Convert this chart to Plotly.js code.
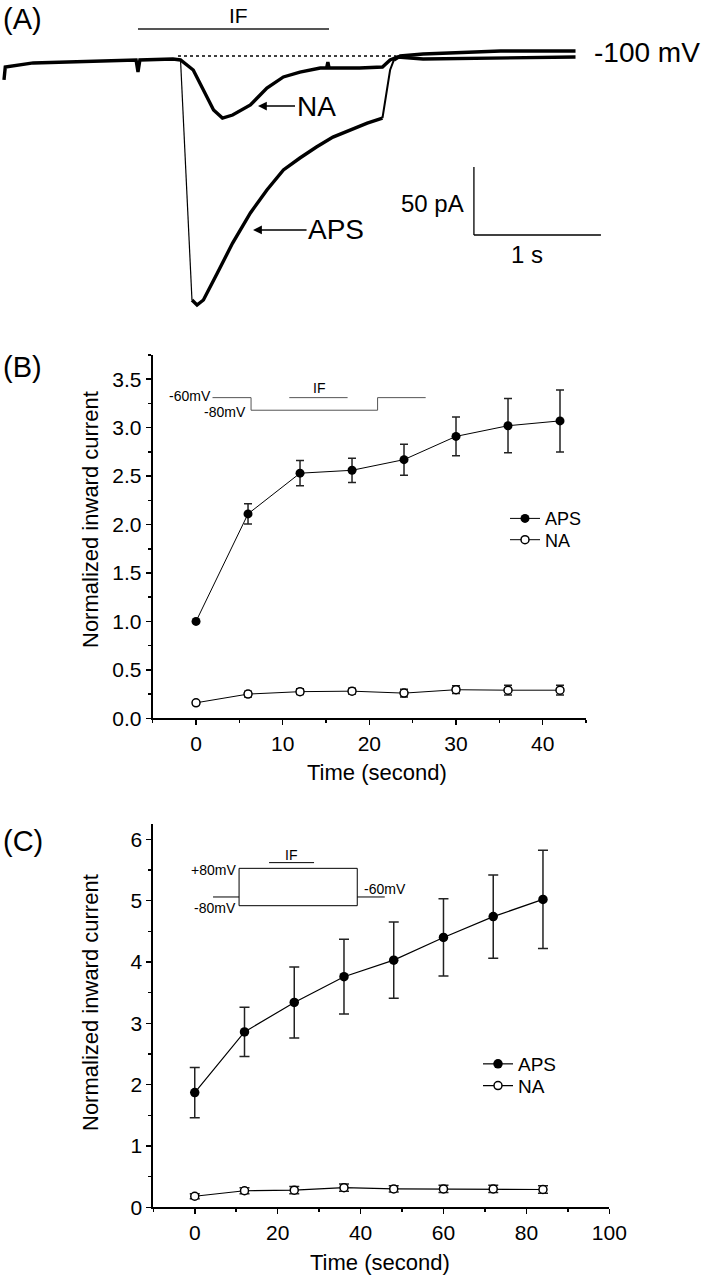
<!DOCTYPE html>
<html><head><meta charset="utf-8">
<script src="https://cdn.plot.ly/plotly-3.0.1.min.js"></script>
<style>html,body{margin:0;padding:0;background:#fff}#chart{width:709px;height:1277px}</style>
</head><body><div id="chart"></div>
<script>
// ---------- Panel A: current traces (time in s, current in pA, 0 = holding level) ----------
const aTimeNA = [0, 0.01, 0.23, 0.76, 1.04, 1.055, 1.07, 1.33, 1.39, 1.49, 1.57, 1.65, 1.72, 1.80, 1.94, 2.07, 2.20, 2.33, 2.49, 2.54, 2.55, 2.56, 2.80, 2.98, 3.04, 3.10, 3.30, 3.91, 4.50];
const aCurrNA = [-17.6, -8.1, -5.1, -3.7, -2.9, -11.8, -2.9, -2.2, -2.9, -10.3, -25.0, -39.7, -45.6, -43.4, -36.0, -23.5, -15.4, -11.8, -8.8, -8.8, -4.4, -8.8, -8.8, -8.1, -2.9, -0.7, -2.2, -1.5, -0.7];
const aTimeAPS = [0, 0.01, 0.23, 0.76, 1.04, 1.33, 1.39, 1.48, 1.52, 1.57, 1.60, 1.68, 1.80, 1.94, 2.07, 2.20, 2.33, 2.46, 2.59, 2.72, 2.86, 2.98, 3.01, 3.04, 3.07, 3.12, 3.30, 3.91, 4.50];
const aCurrAPS = [-17.6, -8.1, -5.1, -3.7, -2.9, -2.2, -2.9, -179.4, -183.1, -179.4, -174.3, -159.6, -137.5, -115.4, -98.5, -83.8, -75.0, -66.9, -59.6, -54.4, -49.3, -45.6, -28.7, -10.3, -2.9, 0.0, 1.5, 3.7, 3.7];
const aIFbar = [1.055, 2.559];      // s
const aIFlevel = 19.9;              // pA (drawing level of the bar)
const aHoldLine = [1.37, 3.09];     // s, dashed zero-current line
const aScaleTime = 1;               // s
const aScaleCurrent = 50;           // pA
const aScaleOrigin = [3.70, -131.6];

// ---------- Panel B ----------
const bTime = [0, 6, 12, 18, 24, 30, 36, 42];
const bAPS = [1.00, 2.11, 2.53, 2.56, 2.67, 2.91, 3.02, 3.07];
const bAPSerr = [0, 0.105, 0.13, 0.125, 0.16, 0.20, 0.28, 0.32];
const bNA = [0.16, 0.25, 0.275, 0.28, 0.26, 0.295, 0.29, 0.29];
const bNAerr = [0.02, 0.03, 0.03, 0.03, 0.04, 0.04, 0.05, 0.05];
const bProtoX = [1.9, 6.35, 6.35, 20.95, 20.95, 26.5];
const bProtoY = [3.31, 3.31, 3.18, 3.18, 3.31, 3.31];
const bIFx = [10.76, 17.49];
const bIFy = 3.31;

// ---------- Panel C ----------
const cTime = [0, 12, 24, 36, 48, 60, 72, 84];
const cAPS = [1.87, 2.86, 3.34, 3.76, 4.03, 4.40, 4.74, 5.02];
const cAPSerr = [0.41, 0.40, 0.58, 0.61, 0.62, 0.63, 0.68, 0.80];
const cNA = [0.18, 0.27, 0.28, 0.32, 0.30, 0.30, 0.30, 0.29];
const cNAerr = [0.04, 0.05, 0.06, 0.06, 0.05, 0.06, 0.06, 0.06];
const cBoxX = [10.69, 10.69, 39.2, 39.2, 10.69];
const cBoxY = [4.918, 5.527, 5.527, 4.918, 4.918];
const cPreX = [4.41, 10.69];
const cPostX = [39.2, 45.84];
const cRestY = 5.06;
const cIFx = [17.93, 28.78];
const cIFy = 5.62;

const FONT = 'Liberation Sans, Arial, Helvetica, sans-serif';
const H = 1277, W = 709;
const py = p => 1 - p / H;
const px = p => p / W;

const traces = [];
function aSeg(t, c, i0, i1, w) {
  traces.push({x: t.slice(i0, i1 + 1), y: c.slice(i0, i1 + 1), xaxis: 'x', yaxis: 'y', mode: 'lines',
    line: {color: '#000', width: w}, showlegend: false, hoverinfo: 'skip'});
}
// Panel A traces: fast transitions drawn thin, noisy slow parts drawn thick
aSeg(aTimeAPS, aCurrAPS, 6, 7, 1.2);
aSeg(aTimeAPS, aCurrAPS, 7, 21, 3.4);
aSeg(aTimeAPS, aCurrAPS, 21, 24, 2);
aSeg(aTimeAPS, aCurrAPS, 24, aTimeAPS.length - 1, 3.4);
aSeg(aTimeNA, aCurrNA, 0, aTimeNA.length - 1, 3.4);

// Panel B
traces.push({x: bProtoX, y: bProtoY, xaxis: 'x2', yaxis: 'y2', mode: 'lines', line: {color: '#555', width: 1}, showlegend: false, hoverinfo: 'skip'});
traces.push({x: bIFx, y: [bIFy, bIFy], xaxis: 'x2', yaxis: 'y2', mode: 'lines', line: {color: '#555', width: 1}, showlegend: false, hoverinfo: 'skip'});
traces.push({x: bTime, y: bAPS, name: 'APS', xaxis: 'x2', yaxis: 'y2', mode: 'lines+markers', legend: 'legend',
  line: {color: '#000', width: 1}, marker: {symbol: 'circle', size: 9, color: '#000'},
  error_y: {type: 'data', array: bAPSerr, visible: true, color: '#222', thickness: 1.5, width: 4}});
traces.push({x: bTime, y: bNA, name: 'NA', xaxis: 'x2', yaxis: 'y2', mode: 'lines+markers', legend: 'legend3',
  line: {color: '#000', width: 1}, marker: {symbol: 'circle', size: 8, color: '#fff', line: {color: '#000', width: 1.5}},
  error_y: {type: 'data', array: bNAerr, visible: true, color: '#222', thickness: 1.5, width: 4}});

// Panel C
traces.push({x: cBoxX, y: cBoxY, xaxis: 'x3', yaxis: 'y3', mode: 'lines', line: {color: '#000', width: 1}, showlegend: false, hoverinfo: 'skip'});
traces.push({x: cPreX, y: [cRestY, cRestY], xaxis: 'x3', yaxis: 'y3', mode: 'lines', line: {color: '#000', width: 1}, showlegend: false, hoverinfo: 'skip'});
traces.push({x: cPostX, y: [cRestY, cRestY], xaxis: 'x3', yaxis: 'y3', mode: 'lines', line: {color: '#000', width: 1}, showlegend: false, hoverinfo: 'skip'});
traces.push({x: cIFx, y: [cIFy, cIFy], xaxis: 'x3', yaxis: 'y3', mode: 'lines', line: {color: '#000', width: 1}, showlegend: false, hoverinfo: 'skip'});
traces.push({x: cTime, y: cAPS, name: 'APS', xaxis: 'x3', yaxis: 'y3', mode: 'lines+markers', legend: 'legend2',
  line: {color: '#000', width: 1.2}, marker: {symbol: 'circle', size: 9.5, color: '#000'},
  error_y: {type: 'data', array: cAPSerr, visible: true, color: '#222', thickness: 1.5, width: 5}});
traces.push({x: cTime, y: cNA, name: 'NA', xaxis: 'x3', yaxis: 'y3', mode: 'lines+markers', legend: 'legend4',
  line: {color: '#000', width: 1.2}, marker: {symbol: 'circle', size: 8, color: '#fff', line: {color: '#000', width: 1.5}},
  error_y: {type: 'data', array: cNAerr, visible: true, color: '#222', thickness: 1.5, width: 5}});

const axCommon = {
  showline: true, linecolor: '#000', linewidth: 2, showgrid: false, zeroline: false,
  ticks: 'outside', ticklen: 5, tickwidth: 1.5, tickcolor: '#000',
  tickfont: {family: FONT, size: 21, color: '#000'}, fixedrange: true
};

function txt(text, xref, yref, x, y, size, xa, ya, extra) {
  return Object.assign({text: text, xref: xref, yref: yref, x: x, y: y, xanchor: xa || 'center', yanchor: ya || 'middle',
    showarrow: false, font: {family: FONT, size: size, color: '#000'}}, extra || {});
}

const annotations = [
  // panel labels
  txt('(A)', 'paper', 'paper', px(1), py(19), 29, 'left'),
  txt('(B)', 'paper', 'paper', px(1), py(367), 29, 'left'),
  txt('(C)', 'paper', 'paper', px(1), py(841), 29, 'left'),
  // Panel A texts
  txt('IF', 'x', 'y', 1.843, 30.1, 21),
  {text: 'NA', xref: 'x', yref: 'y', x: 2.0, y: -36.8, ax: 58, ay: 0, showarrow: true, arrowhead: 2, arrowsize: 1.1, arrowwidth: 1.6, arrowcolor: '#000', standoff: 0, font: {family: FONT, size: 28, color: '#000'}},
  {text: 'APS', xref: 'x', yref: 'y', x: 1.961, y: -127.9, ax: 83, ay: 0, showarrow: true, arrowhead: 2, arrowsize: 1.1, arrowwidth: 1.6, arrowcolor: '#000', standoff: 0, font: {family: FONT, size: 28, color: '#000'}},
  txt('-100 mV', 'x', 'y', 4.63, 2.9, 28, 'left'),
  txt('50 pA', 'x', 'y', 3.64, -108.8, 24, 'right'),
  txt('1 s', 'x', 'y', 4.118, -145.6, 24),
  // Panel B inset texts
  txt('-60mV', 'x2', 'y2', 1.9, 3.33, 14, 'right'),
  txt('-80mV', 'x2', 'y2', 6.0, 3.16, 14, 'right'),
  txt('IF', 'x2', 'y2', 14.2, 3.41, 14),
  // Panel C inset texts
  txt('+80mV', 'x3', 'y3', 10.4, 5.50, 14, 'right'),
  txt('-80mV', 'x3', 'y3', 10.4, 4.875, 14, 'right'),
  txt('IF', 'x3', 'y3', 23.33, 5.744, 14),
  txt('-60mV', 'x3', 'y3', 40.4, 5.185, 14, 'left'),
  // axis titles
  txt('Normalized inward current', 'paper', 'paper', px(90), py(520), 22, 'center', 'middle', {textangle: -90}),
  txt('Time (second)', 'paper', 'paper', px(377), py(772), 22),
  txt('Normalized inward current', 'paper', 'paper', px(90), py(1003), 22, 'center', 'middle', {textangle: -90}),
  txt('Time (second)', 'paper', 'paper', px(380), py(1262), 22)
];

const shapes = [
  {type: 'line', xref: 'x', yref: 'y', x0: aIFbar[0], x1: aIFbar[1], y0: aIFlevel, y1: aIFlevel, line: {color: '#555', width: 2}},
  {type: 'line', xref: 'x', yref: 'y', x0: aHoldLine[0], x1: aHoldLine[1], y0: 0, y1: 0, line: {color: '#000', width: 1.6, dash: '3px,3px'}},
  {type: 'line', xref: 'x', yref: 'y', x0: aScaleOrigin[0], x1: aScaleOrigin[0], y0: aScaleOrigin[1], y1: aScaleOrigin[1] + aScaleCurrent, line: {color: '#000', width: 1.3}},
  {type: 'line', xref: 'x', yref: 'y', x0: aScaleOrigin[0], x1: aScaleOrigin[0] + aScaleTime, y0: aScaleOrigin[1], y1: aScaleOrigin[1], line: {color: '#000', width: 1.3}}
];

function leg(x, y, size) {
  return {x: px(x), y: py(y), xanchor: 'left', yanchor: 'middle', bgcolor: 'rgba(0,0,0,0)', borderwidth: 0,
    font: {family: FONT, size: size, color: '#000'}, tracegroupgap: 0};
}

const layout = {
  width: W, height: H,
  margin: {l: 0, r: 0, t: 0, b: 0},
  paper_bgcolor: '#fff', plot_bgcolor: 'rgba(0,0,0,0)',
  font: {family: FONT, color: '#000'},
  xaxis: {domain: [0, 1], range: [-0.0315, 5.551], visible: false, fixedrange: true, anchor: 'y'},
  yaxis: {domain: [py(320), 1], range: [-194.1, 41.18], visible: false, fixedrange: true, anchor: 'x'},
  xaxis2: Object.assign({}, axCommon, {domain: [px(152.7), px(586)], range: [-5, 45], anchor: 'y2', tick0: 0, dtick: 10,
    minor: {dtick: 5, ticks: 'outside', ticklen: 3, tickwidth: 1.5, tickcolor: '#000'}}),
  yaxis2: Object.assign({}, axCommon, {domain: [py(718.3), py(355)], range: [0, 3.75], anchor: 'x2', tick0: 0, dtick: 0.5, tickformat: '.1f',
    minor: {dtick: 0.25, ticks: 'outside', ticklen: 3, tickwidth: 1.5, tickcolor: '#000'}}),
  xaxis3: Object.assign({}, axCommon, {domain: [px(153.3), px(609.3)], range: [-10, 100], anchor: 'y3', tick0: 0, dtick: 20,
    minor: {dtick: 10, ticks: 'outside', ticklen: 3, tickwidth: 1.5, tickcolor: '#000'}}),
  yaxis3: Object.assign({}, axCommon, {domain: [py(1207.3), py(824)], range: [0, 6.25], anchor: 'x3', tick0: 0, dtick: 1,
    minor: {dtick: 0.5, ticks: 'outside', ticklen: 3, tickwidth: 1.5, tickcolor: '#000'}}),
  showlegend: true,
  legend: leg(505, 518.7, 18),
  legend3: leg(505, 540.0, 18),
  legend2: leg(478, 1064, 19),
  legend4: leg(478, 1085.7, 19),
  annotations: annotations,
  shapes: shapes
};

Plotly.newPlot('chart', traces, layout, {staticPlot: true, displayModeBar: false});
</script></body></html>
